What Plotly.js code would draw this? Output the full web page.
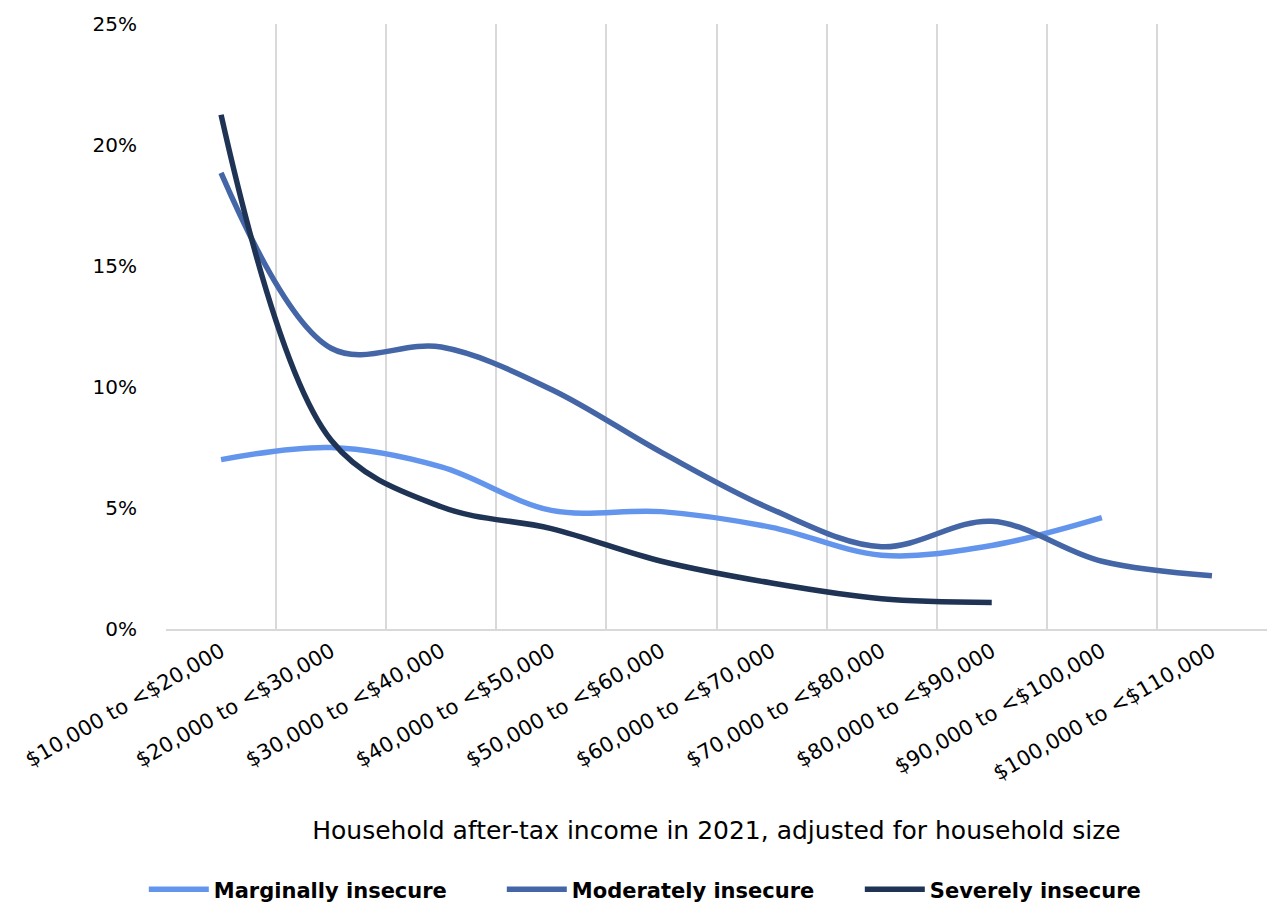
<!DOCTYPE html>
<html>
<head>
<meta charset="utf-8">
<script src="https://cdn.plot.ly/plotly-3.0.1.min.js"></script>
<style>html,body{margin:0;padding:0;background:#fff;}#chart{width:1267px;height:906px;}</style>
</head>
<body>
<div id="chart"></div>
<script>
const categories = ["$10,000 to <$20,000","$20,000 to <$30,000","$30,000 to <$40,000","$40,000 to <$50,000","$50,000 to <$60,000","$60,000 to <$70,000","$70,000 to <$80,000","$80,000 to <$90,000","$90,000 to <$100,000","$100,000 to <$110,000"];
const marginally = [7.0, 7.5, 6.7, 4.9, 4.85, 4.2, 3.05, 3.45, 4.6, null];
const moderately = [18.85, 11.6, 11.65, 9.9, 7.3, 4.95, 3.4, 4.45, 2.8, 2.2];
const severely = [21.25, 7.8, 5.05, 4.15, 2.8, 1.9, 1.25, 1.1, null, null];
const seriesNames = ["Marginally insecure","Moderately insecure","Severely insecure"];
const colors = ["#6495ed","#4466a6","#1f3355"];

const allSeries = [marginally, moderately, severely];
const traces = allSeries.map((vals, i) => ({
  type: "scatter",
  mode: "lines",
  name: seriesNames[i],
  x: categories,
  y: vals,
  line: {color: colors[i], width: 5.5, shape: "spline", smoothing: 1},
  connectgaps: false
}));

const font = "'DejaVu Sans', sans-serif";
const layout = {
  width: 1267, height: 906,
  margin: {l: 166, r: 0, t: 24, b: 277},
  paper_bgcolor: "#fff", plot_bgcolor: "#fff",
  font: {family: font, size: 19, color: "#000"},
  showlegend: true,
  legend: {orientation: "h", xref: "container", yref: "container", x: 0.1135, xanchor: "left", y: 0.018, yanchor: "middle",
    font: {family: font, size: 21, color: "#000", weight: "bold"}, itemwidth: 60, entrywidth: 283, tracegroupgap: 0},
  xaxis: {
    type: "category",
    automargin: false,
    tickson: "boundaries",
    showgrid: true, gridcolor: "#d9d9d9", gridwidth: 2,
    ticks: "", tickangle: -30,
    tickfont: {family: font, size: 21, color: "#000"},
    showline: true, linecolor: "#d9d9d9", linewidth: 2,
    range: [-0.5, 9.5],
    title: {text: "Household after-tax income in 2021, adjusted for household size", font: {family: font, size: 25, color: "#000"}, standoff: 37},
    zeroline: false
  },
  yaxis: {
    automargin: false,
    range: [0, 25],
    tickvals: [0,5,10,15,20,25],
    ticktext: ["0%","5%","10%","15%","20%","25%"],
    showgrid: false, zeroline: false, showline: false,
    ticks: "", ticklabelstandoff: 28,
    tickfont: {family: font, size: 20, color: "#000"}
  }
};
Plotly.newPlot("chart", traces, layout, {displayModeBar: false, staticPlot: true});
</script>
</body>
</html>
